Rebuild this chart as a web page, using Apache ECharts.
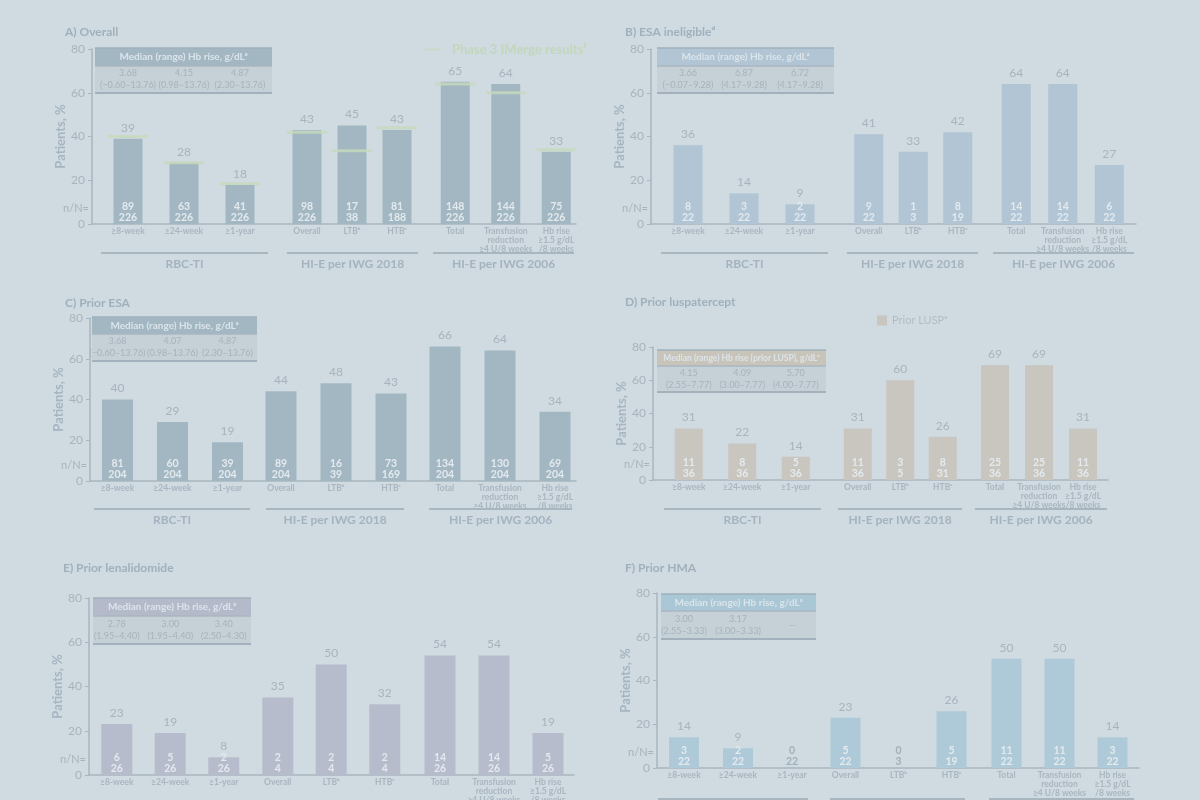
<!DOCTYPE html>
<html lang="en">
<head>
<meta charset="UTF-8">
<title>Hb response by subgroup</title>
<script src="https://cdn.jsdelivr.net/npm/echarts@6/dist/echarts.min.js"></script>
<style>html,body{margin:0;background:#cfdae1;}</style>
</head>
<body>
<div id="chart" style="width:1200px;height:800px;"></div>
<script>
// categories shared by every panel
var categories = ['≥8-week', '≥24-week', '≥1-year', 'Overall', 'LTBᵇ', 'HTBᶜ', 'Total',
    'Transfusion\nreduction\n≥4 U/8 weeks', 'Hb rise\n≥1.5 g/dL\n/8 weeks'];
var groupNames = ['RBC-TI', 'HI-E per IWG 2018', 'HI-E per IWG 2006'];

// A) Overall
var pctA = [39, 28, 18, 43, 45, 43, 65, 64, 33];
var nA = [89, 63, 41, 98, 17, 81, 148, 144, 75];
var totA = [226, 226, 226, 226, 38, 188, 226, 226, 226];
var phase3A = [40, 28, 18.5, 42, 33.5, 44, 64, 60, 34];
var medA = ['3.68', '4.15', '4.87'];
var rangeA = ['(−0.60–13.76)', '(0.98–13.76)', '(2.30–13.76)'];

// B) ESA ineligible
var pctB = [36, 14, 9, 41, 33, 42, 64, 64, 27];
var nB = [8, 3, 2, 9, 1, 8, 14, 14, 6];
var totB = [22, 22, 22, 22, 3, 19, 22, 22, 22];
var medB = ['3.66', '6.87', '6.72'];
var rangeB = ['(−0.07–9.28)', '(4.17–9.28)', '(4.17–9.28)'];

// C) Prior ESA
var pctC = [40, 29, 19, 44, 48, 43, 66, 64, 34];
var nC = [81, 60, 39, 89, 16, 73, 134, 130, 69];
var totC = [204, 204, 204, 204, 39, 169, 204, 204, 204];
var medC = ['3.68', '4.07', '4.87'];
var rangeC = ['(−0.60–13.76)', '(0.98–13.76)', '(2.30–13.76)'];

// D) Prior luspatercept
var pctD = [31, 22, 14, 31, 60, 26, 69, 69, 31];
var nD = [11, 8, 5, 11, 3, 8, 25, 25, 11];
var totD = [36, 36, 36, 36, 5, 31, 36, 36, 36];
var medD = ['4.15', '4.09', '5.70'];
var rangeD = ['(2.55–7.77)', '(3.00–7.77)', '(4.00–7.77)'];

// E) Prior lenalidomide
var pctE = [23, 19, 8, 35, 50, 32, 54, 54, 19];
var nE = [6, 5, 2, 2, 2, 2, 14, 14, 5];
var totE = [26, 26, 26, 4, 4, 4, 26, 26, 26];
var medE = ['2.78', '3.00', '3.40'];
var rangeE = ['(1.95–4.40)', '(1.95–4.40)', '(2.50–4.30)'];

// F) Prior HMA
var pctF = [14, 9, 0, 23, 0, 26, 50, 50, 14];
var nF = [3, 2, 0, 5, 0, 5, 11, 11, 3];
var totF = [22, 22, 22, 22, 3, 19, 22, 22, 22];
var medF = ['3.00', '3.17', '--'];
var rangeF = ['(2.55–3.33)', '(3.00–3.33)', ''];

var FONT = 'Lato';
var GREY = '#a7b4bd';

// layout: ax = y axis x, end = x axis end, g = [left, slot] per group grid
var panels = [
    { title: 'A) Overall', pct: pctA, n: nA, tot: totA, med: medA, range: rangeA, phase3: phase3A,
      header: 'Median (range) Hb rise, g/dLᵃ', hs: 10, color: '#a3b7c3', head: '#a3b7c3', bw: 29,
      ax: 92, end: 576, top: 49, bottom: 224, g: [[100, 56], [284.5, 45], [430, 50.5]],
      tab: [95, 272, 48, 66, 93], gy: 253, seg: [[101, 268], [287, 418], [433, 574]], tx: 65, ty: 32 },
    { title: 'B) ESA ineligibleᵈ', pct: pctB, n: nB, tot: totB, med: medB, range: rangeB,
      header: 'Median (range) Hb rise, g/dLᵃ', hs: 10, color: '#b1c5d5', head: '#b1c5d5', bw: 29,
      ax: 651, end: 1136, top: 49, bottom: 224, g: [[660, 56], [846.5, 44.5], [993, 46.5]],
      tab: [657, 834, 48, 66, 93], gy: 253, seg: [[661, 828], [847, 978], [993, 1134]], tx: 625, ty: 32 },
    { title: 'C) Prior ESA', pct: pctC, n: nC, tot: totC, med: medC, range: rangeC,
      header: 'Median (range) Hb rise, g/dLᵃ', hs: 10, color: '#a3b7c3', head: '#a3b7c3', bw: 31,
      ax: 90, end: 576, top: 318, bottom: 481, g: [[90, 55], [253.5, 55], [417.5, 55]],
      tab: [92, 257, 317, 334, 361], gy: 509, seg: [[94, 250], [266, 404], [429, 572]], tx: 65, ty: 303 },
    { title: 'D) Prior luspatercept', pct: pctD, n: nD, tot: totD, med: medD, range: rangeD,
      header: 'Median (range) Hb rise (prior LUSP), g/dLᵃ', hs: 8.5, color: '#c9c6bf', head: '#c9c4ba', bw: 28,
      legend: 'Prior LUSPᵉ',
      ax: 653, end: 1108, top: 347, bottom: 480, g: [[662, 53.5], [836.5, 42.5], [973, 44]],
      tab: [657, 826, 350, 366, 392], gy: 509, seg: [[664, 821], [838, 962], [975, 1107]], tx: 625, ty: 302 },
    { title: 'E) Prior lenalidomide', pct: pctE, n: nE, tot: totE, med: medE, range: rangeE,
      header: 'Median (range) Hb rise, g/dLᵃ', hs: 10, color: '#b7bccd', head: '#b5bacb', bw: 31,
      ax: 89, end: 574, top: 598, bottom: 775, g: [[90, 53.5], [251, 53.5], [413, 54]],
      tab: [93, 251, 598, 616, 644], gy: 806, seg: [[94, 250], [262, 404], [426, 572]], tx: 63, ty: 568 },
    { title: 'F) Prior HMA', pct: pctF, n: nF, tot: totF, med: medF, range: rangeF,
      header: 'Median (range) Hb rise, g/dLᵃ', hs: 10, color: '#aecad8', head: '#a9c7d5', bw: 30,
      ax: 657, end: 1139, top: 593, bottom: 768, g: [[657, 54], [819, 53], [980, 53]],
      tab: [661, 816, 594, 611, 639], gy: 799, seg: [[658, 808], [830, 965], [989, 1134]], tx: 625, ty: 568 }
];

var grids = [], xAxes = [], yAxes = [], series = [], graphics = [], legends = [];

function txt(x, y, s, opt) {
    opt = opt || {};
    var st = {
        text: s, fill: opt.fill || GREY, fontFamily: FONT, fontSize: opt.size || 11,
        fontWeight: opt.bold ? 'bold' : 'normal',
        textAlign: opt.align || 'center', align: opt.align || 'center',
        textVerticalAlign: 'middle', verticalAlign: 'middle', lineHeight: opt.lh || 13
    };
    return { type: 'text', x: x, y: y, z: 20, style: st };
}

panels.forEach(function (p, pi) {
    var h = p.bottom - p.top;
    // frame grid carries the y axis and the full-length x axis line
    var fi = grids.length;
    grids.push({ left: p.ax, top: p.top, width: p.end - p.ax, height: h, outerBoundsMode: 'none', containLabel: false });
    xAxes.push({ gridIndex: fi, type: 'value', min: 0, max: 1,
        axisLabel: { show: false }, axisTick: { show: false }, splitLine: { show: false },
        axisLine: { lineStyle: { color: '#a9b6bf', width: 1.5 } } });
    yAxes.push({ gridIndex: fi, type: 'value', min: 0, max: 80, interval: 20,
        name: 'Patients, %', nameLocation: 'middle', nameGap: 23,
        nameTextStyle: { color: '#a5b5c1', fontFamily: FONT, fontSize: 13, fontWeight: 'bold' },
        axisLine: { show: true, lineStyle: { color: '#a9b6bf', width: 1.5 } },
        axisTick: { show: true, length: 4, lineStyle: { color: '#a9b6bf' } },
        axisLabel: { color: GREY, fontFamily: FONT, fontSize: 12, margin: 7 },
        splitLine: { show: false } });

    for (var g = 0; g < 3; g++) {
        var gi = grids.length;
        var left = p.g[g][0], slot = p.g[g][1];
        grids.push({ left: left, top: p.top, width: slot * 3, height: h, outerBoundsMode: 'none', containLabel: false });
        xAxes.push({ gridIndex: gi, type: 'category', data: categories.slice(g * 3, g * 3 + 3),
            axisLine: { show: false }, axisTick: { show: false },
            axisLabel: { interval: 0, color: '#a9b6c0', fontFamily: FONT, fontSize: 8.5,
                fontWeight: 'bold', margin: 3, lineHeight: 9 } });
        yAxes.push({ gridIndex: gi, type: 'value', min: 0, max: 80, show: false });

        var idx = [g * 3, g * 3 + 1, g * 3 + 2];
        series.push({
            type: 'bar', name: p.legend || ('bars' + pi), xAxisIndex: gi, yAxisIndex: gi,
            barWidth: p.bw, itemStyle: { color: p.color },
            data: idx.map(function (i) { return p.pct[i]; }),
            label: { show: true, position: 'top', distance: 5, color: GREY, fontFamily: FONT, fontSize: 12,
                formatter: function (q) { return q.value > 0 ? q.value : ''; } },
            silent: true
        });
        // overlay bar only carries the n/N labels
        series.push({
            type: 'bar', name: 'nN' + pi, xAxisIndex: gi, yAxisIndex: gi,
            barWidth: p.bw, barGap: '-100%', itemStyle: { color: 'rgba(0,0,0,0)' },
            data: idx.map(function (i) {
                return { value: p.pct[i], label: { color: p.pct[i] > 0 ? '#e3eaee' : '#a2b0b9' } };
            }),
            label: { show: true, position: 'insideBottom', distance: 1, fontFamily: FONT, fontSize: 10.5,
                fontWeight: 'bold', lineHeight: 11,
                formatter: (function (ids) {
                    return function (q) { var i = ids[q.dataIndex]; return p.n[i] + '\n' + p.tot[i]; };
                })(idx) },
            silent: true, z: 3
        });
        if (p.phase3) {
            series.push({
                type: 'scatter', name: 'Phase 3 IMerge resultsᶠ', xAxisIndex: gi, yAxisIndex: gi,
                symbol: 'rect', symbolSize: [40, 3], itemStyle: { color: '#c6dabb' },
                data: idx.map(function (i) { return p.phase3[i]; }), z: 4, silent: true
            });
        }
    }

    // title, n/N=
    graphics.push(txt(p.tx, p.ty, p.title, { align: 'left', bold: true, size: 12, fill: '#9fb1bd' }));
    graphics.push(txt(p.ax - 3, p.bottom - 16, 'n/N=', { align: 'right', size: 11 }));

    // median table
    var t = p.tab;
    graphics.push({ type: 'rect', z: 15, shape: { x: t[0], y: t[3], width: t[1] - t[0], height: t[4] - t[3] },
        style: { fill: '#c5d0d7' } });
    graphics.push({ type: 'rect', z: 15, shape: { x: t[0], y: t[2], width: t[1] - t[0], height: t[3] - t[2] },
        style: { fill: p.head } });
    graphics.push({ type: 'line', z: 16, shape: { x1: t[0], y1: t[2], x2: t[1], y2: t[2] },
        style: { stroke: '#9fb0bb', lineWidth: 1.5 } });
    graphics.push({ type: 'line', z: 16, shape: { x1: t[0], y1: t[3], x2: t[1], y2: t[3] },
        style: { stroke: '#a9b7c0', lineWidth: 1.5 } });
    graphics.push({ type: 'line', z: 16, shape: { x1: t[0], y1: t[4], x2: t[1], y2: t[4] },
        style: { stroke: '#a2b1bb', lineWidth: 2 } });
    graphics.push(txt((t[0] + t[1]) / 2, (t[2] + t[3]) / 2, p.header, { bold: true, size: p.hs, fill: '#dbe4ea' }));
    for (var c = 0; c < 3; c++) {
        var cx = p.g[0][0] + p.g[0][1] * (c + 0.5);
        var s = p.range[c] ? p.med[c] + '\n' + p.range[c] : p.med[c];
        graphics.push(txt(cx, (t[3] + t[4]) / 2, s, { size: 9, fill: '#a7b3bb', lh: 12 }));
    }

    // group brackets
    for (var k = 0; k < 3; k++) {
        var sg = p.seg[k];
        graphics.push({ type: 'line', z: 16, shape: { x1: sg[0], y1: p.gy, x2: sg[1], y2: p.gy },
            style: { stroke: '#a8b6bf', lineWidth: 2 } });
        graphics.push(txt((sg[0] + sg[1]) / 2, p.gy + 11, groupNames[k], { bold: true, size: 12, fill: '#a3b4c0' }));
    }

    if (p.legend) {
        legends.push({ left: 872, top: 310, data: [p.legend], icon: 'rect', itemWidth: 10, itemHeight: 10,
            selectedMode: false, textStyle: { color: '#b3bcc3', fontFamily: FONT, fontSize: 11 } });
    }
});

legends.push({ left: 420, top: 38, data: ['Phase 3 IMerge resultsᶠ'], icon: 'rect', itemWidth: 14, itemHeight: 2,
    itemGap: 14, selectedMode: false,
    textStyle: { color: '#c3d7bb', fontFamily: FONT, fontSize: 13, fontWeight: 'bold', padding: [0, 0, 0, 8] } });

var chart = echarts.init(document.getElementById('chart'));
chart.setOption({
    backgroundColor: '#cfdae1',
    animation: false,
    textStyle: { fontFamily: FONT },
    grid: grids,
    xAxis: xAxes,
    yAxis: yAxes,
    legend: legends,
    series: series,
    graphic: graphics
});
window.addEventListener('resize', function () { chart.resize(); });
</script>
</body>
</html>
